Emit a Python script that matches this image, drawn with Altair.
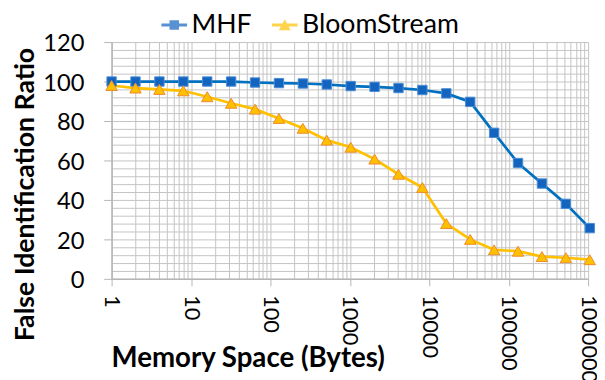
import altair as alt
import pandas as pd

# ---- data ----
series_names = ["MHF", "BloomStream"]
memory = [1, 2, 4, 8, 16, 32, 64, 128, 256, 512, 1024, 2048, 4096, 8192,
          16384, 32768, 65536, 131072, 262144, 524288, 1048576]
mhf = [100, 100, 100, 100, 100, 100, 99.5, 99.2, 99, 98.5, 97.7, 97.3,
       96.7, 95.7, 94, 89.7, 74, 58.7, 48.3, 38, 25.7]
bloom = [98, 96.7, 96, 95.3, 92.3, 89, 86, 81.3, 76.3, 70.3, 66.7, 60.7,
         53, 46.3, 28, 20, 14.7, 14, 11.3, 10.7, 9.7]

decades = [1, 10, 100, 1000, 10000, 100000, 1000000]
multipliers = [1, 2, 3, 4, 5, 6, 7, 8, 9]
y_grid = [0, 4, 8, 12, 16, 20, 24, 28, 32, 36, 40, 44, 48, 52, 56, 60,
          64, 68, 72, 76, 80, 84, 88, 92, 96, 100, 104, 108, 112, 116, 120]

x_grid = [d * m for d in decades[:-1] for m in multipliers] + [decades[-1]]

rows = []
for name, vals in zip(series_names, [mhf, bloom]):
    for m, v in zip(memory, vals):
        rows.append({"series": name, "memory": m, "value": v})
df = pd.DataFrame(rows)

FONT = "Lato"
GRID = "#C3C3C3"
AXIS = "#B5B5B5"

decade_test = "indexof(" + str(decades) + ", datum.value) >= 0"

x_enc = alt.X(
    "memory:Q",
    scale=alt.Scale(type="log", domain=[1, 1000000], nice=False),
    axis=alt.Axis(
        values=x_grid,
        format="d",
        labelExpr=decade_test + " ? datum.label : ''",
        labelAngle=90,
        labelFontSize=22,
        labelFont=FONT,
        labelColor="#000000",
        labelPadding=9,
        labelOverlap=False,
        labelFlush=False,
        labelBound=False,
        tickSize=7,
        tickColor=AXIS,
        tickOpacity={"condition": {"test": decade_test, "value": 1}, "value": 0},
        grid=True,
        gridColor=GRID,
        gridWidth=1,
        domainColor=AXIS,
        domainWidth=1.5,
        title="Memory Space (Bytes)",
        titleFont=FONT,
        titleFontSize=28,
        titleFontWeight="bold",
        titleColor="#000000",
        titleX=138,
        titleY=89,
        titleAlign="center",
        titleBaseline="alphabetic",
    ),
)

y_enc = alt.Y(
    "value:Q",
    scale=alt.Scale(domain=[0, 120], nice=False, zero=False),
    axis=alt.Axis(
        values=y_grid,
        labelExpr="datum.value % 20 == 0 ? datum.label : ''",
        labelFontSize=24,
        labelFont=FONT,
        labelColor="#000000",
        labelPadding=20,
        labelOffset=2,
        labelOverlap=False,
        labelFlush=False,
        labelBound=False,
        tickSize=8,
        tickColor=AXIS,
        tickOpacity={"condition": {"test": "datum.value % 20 == 0", "value": 1}, "value": 0},
        grid=True,
        gridColor=GRID,
        gridWidth=1,
        domainColor=AXIS,
        domainWidth=1.5,
        title="False Identification Ratio",
        titleFont=FONT,
        titleFontSize=27,
        titleFontWeight="bold",
        titleColor="#000000",
        titleX=-79,
        titleY=154,
        titleAlign="center",
        titleBaseline="alphabetic",
    ),
)

base = alt.Chart(df).encode(x=x_enc, y=y_enc)

lines = base.mark_line(strokeWidth=2.75).encode(
    color=alt.Color("series:N",
                    scale=alt.Scale(domain=series_names, range=["#0070C0", "#FFC000"]),
                    legend=None),
)

points = base.mark_point(filled=True, strokeWidth=1, opacity=1).encode(
    shape=alt.Shape("series:N",
                    scale=alt.Scale(domain=series_names, range=["square", "triangle-up"]),
                    legend=None),
    fill=alt.Fill("series:N",
                  scale=alt.Scale(domain=series_names, range=["#1264BF", "#FFC000"]),
                  legend=None),
    stroke=alt.Stroke("series:N",
                      scale=alt.Scale(domain=series_names, range=["#4A8CD4", "#EE8A2E"]),
                      legend=None),
    size=alt.Size("series:N",
                  scale=alt.Scale(domain=series_names, range=[90, 135]),
                  legend=None),
)

legend_paths = [
    "M-1,-0.115H1V0.115H-1Z M-0.37,-0.37H0.37V0.37H-0.37Z",
    "M-1,-0.115H1V0.115H-1Z M0,-0.45L0.46,0.4H-0.46Z",
]

legend_layer = base.transform_calculate(lg="datum.series").transform_filter(
    "false"
).mark_point(filled=True).encode(
    color=alt.Color("lg:N",
                    scale=alt.Scale(domain=series_names, range=["#1264BF", "#FFC000"]),
                    legend=alt.Legend(
                        title=None,
                        orient="none",
                        direction="horizontal",
                        legendX=50,
                        legendY=-31,
                        labelFont=FONT,
                        labelFontSize=27,
                        labelColor="#000000",
                        labelLimit=400,
                        labelOffset=4,
                        columnPadding=20,
                        symbolSize=676,
                        symbolStrokeWidth=0,
                    )),
    shape=alt.Shape("lg:N",
                    scale=alt.Scale(domain=series_names, range=legend_paths),
                    legend=alt.Legend(title=None, orient="none", direction="horizontal",
                                      legendX=50, legendY=-31, labelLimit=400)),
)

chart = alt.layer(lines, points, legend_layer).resolve_scale(
    shape="independent", color="independent"
).properties(
    width=483,
    height=240,
    padding={"left": 105, "top": 32, "right": 9, "bottom": 100},
    autosize=alt.AutoSizeParams(type="none"),
    background="#FFFFFF",
).configure_view(stroke=None)

chart.save("out.html", embed_options={"renderer": "svg", "actions": False})
